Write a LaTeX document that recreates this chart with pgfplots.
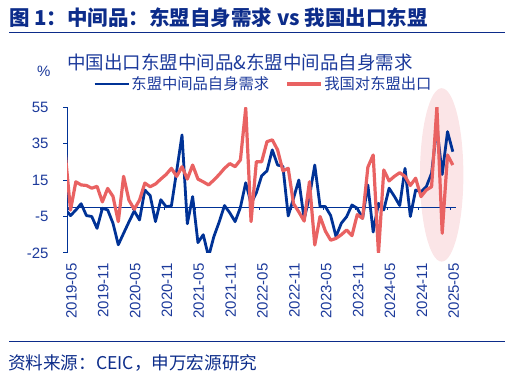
\documentclass[border=0pt]{standalone}
\usepackage{pgfplots}
\pgfplotsset{compat=1.18}
\usepackage{pgfplotstable}
\usepackage{fontspec}
\setmainfont{Liberation Sans}
\newfontfamily\cjk{Noto Sans CJK SC}
\definecolor{titleblue}{RGB}{12,44,138}
\definecolor{txtblue}{RGB}{28,58,155}
\definecolor{lineblue}{RGB}{0,50,150}
\definecolor{linered}{RGB}{233,98,98}
\definecolor{ellpink}{RGB}{251,229,231}
\pgfplotstableread{
i blue red
-1 -1 30
0 -4.5 -1.5
1 -1.5 14
2 2 12.3
3 -4.5 12
4 -5 10.5
5 -11.5 11.5
6 -0.5 3
7 -1.4 10.4
8 -8.7 6
9 -20.5 -7.8
10 -14.2 17
11 -8 4
12 -2 -1
13 -6.9 4
14 9.5 13.3
15 6.5 11.3
16 -7.8 12.8
17 4.2 15.5
18 0.4 18
19 0.8 21.4
20 20 17
21 39.7 22.3
22 -9 15.5
23 5.9 23.2
24 -19.3 15.5
25 -15 14
26 -27 12.3
27 -16 15
28 -8 18
29 1 21.4
30 -3 24
31 -7.8 22.3
32 0 26
33 13.5 54.5
34 2.2 -7.8
35 8 25
36 17.3 25
37 20 36
38 31.5 37
39 23.2 31.5
40 22.5 20
41 -4.7 21.4
42 5 2
43 15 -2.5
44 -6.5 -7.5
45 6 14
46 23.2 -20.6
47 0.4 -5
48 0.4 -13
49 -4.5 -18
50 -16 -17
51 -8.7 -15
52 -5.1 -12.4
53 1.3 -15.5
54 -0.5 -4
55 -6 -6
56 12.3 22
57 -13.5 28.7
58 2.2 -25.3
59 -1.4 20.5
60 10.5 14.5
61 6 17
62 1 19
63 21.4 17
64 -5 12
65 9.5 16
66 8.6 5.9
67 11.3 9.5
68 18.7 11.3
69 44 55
70 18 -14.2
71 41.5 28.7
72 30.5 23.2
}\data
\begin{document}
\begin{tikzpicture}
\useasboundingbox (0pt,0pt) rectangle (511pt,380pt);
\node[anchor=base west, inner sep=0pt, text=titleblue, font=\cjk\bfseries\fontsize{20.5}{20.5}\selectfont] at (9pt,354pt) {图 1：中间品：东盟自身需求 vs 我国出口东盟};
\draw[titleblue, line width=1.6pt] (9pt,347.5pt) -- (505pt,347.5pt);
\node[anchor=base west, inner sep=0pt, text=txtblue, font=\cjk\fontsize{18.5}{18.5}\selectfont] at (67pt,310pt) {中国出口东盟中间品\&东盟中间品自身需求};
\node[anchor=base west, inner sep=0pt, text=txtblue, font=\fontsize{15}{15}\selectfont] at (37pt,303pt) {\%};
\begin{axis}[
  at={(67pt,127pt)}, anchor=south west,
  scale only axis, width=389pt, height=146pt,
  xmin=-0.66, xmax=72.6, ymin=-25, ymax=55,
  axis y line*=left, axis x line*=bottom,
  x axis line style={draw=none},
  y axis line style={draw=lineblue, line width=1pt},
  ytick={-25,-5,15,35,55}, yticklabels={-25,-5,15,35,55},
  xtick={-0.4,5.6,11.6,17.6,23.6,29.6,35.6,41.6,47.6,53.6,59.6,65.6,71.6},
  xticklabels={2019-05,2019-11,2020-05,2020-11,2021-05,2021-11,2022-05,2022-11,2023-05,2023-11,2024-05,2024-11,2025-05},
  tick align=outside, major tick length=4pt,
  ytick style={draw=lineblue, line width=1pt},
  xtick style={draw=none},
  tick label style={font=\fontsize{15}{15}\selectfont, text=txtblue},
  yticklabel style={anchor=east, xshift=-11pt},
  xticklabel style={rotate=90, anchor=east, yshift=-3pt},
  xticklabel shift=3pt,
  clip mode=individual,
  legend columns=2,
  legend style={at={(0.0668,1.1575)}, anchor=west, draw=none, fill=none, inner sep=0pt,
    font=\cjk\fontsize{15.3}{15.3}\selectfont, text=txtblue, nodes={inner sep=1.5pt},
    /tikz/every even column/.append style={column sep=15pt}},
  legend image code/.code={\draw[#1] (0pt,0pt) -- (34pt,0pt);},
]
\fill[ellpink] (axis cs:69.9,17.8) ellipse [x radius=21.7pt, y radius=86.7pt];
\addplot[lineblue, line width=1pt, forget plot] coordinates {(-0.66,0) (72.6,0)};
\addplot[lineblue, ycomb, line width=0.8pt, forget plot, no marks] coordinates {(-0.4,-1.6) (5.6,-1.6) (11.6,-1.6) (17.6,-1.6) (23.6,-1.6) (29.6,-1.6) (35.6,-1.6) (41.6,-1.6) (47.6,-1.6) (53.6,-1.6) (59.6,-1.6) (65.6,-1.6) (71.6,-1.6)};
\addplot[lineblue, line width=2.8pt, line join=round, no marks] table[x=i,y=blue] {\data};
\addplot[linered, line width=3.2pt, line join=round, no marks] table[x=i,y=red] {\data};
\legend{东盟中间品自身需求,我国对东盟出口}
\end{axis}
\draw[titleblue, line width=1.6pt] (9pt,38.3pt) -- (505pt,38.3pt);
\node[anchor=base west, inner sep=0pt, text=titleblue, font=\cjk\fontsize{17.6}{17.6}\selectfont] at (8pt,11pt) {资料来源：CEIC，申万宏源研究};
\end{tikzpicture}
\end{document}
